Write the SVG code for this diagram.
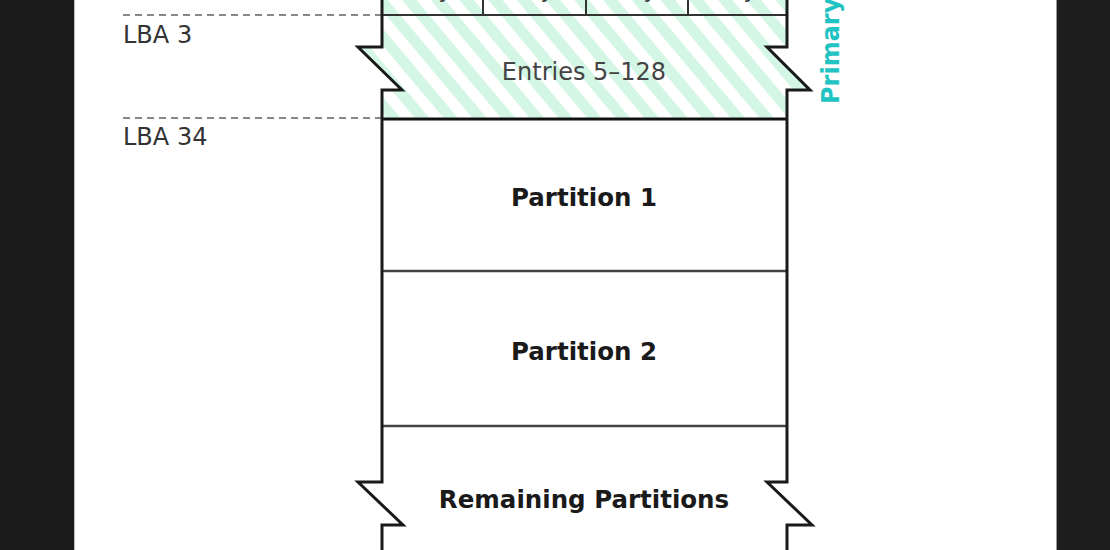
<svg xmlns="http://www.w3.org/2000/svg" width="1110" height="550" viewBox="0 0 1110 550">
  <defs>
    <pattern id="hatch" patternUnits="userSpaceOnUse" width="22" height="22" patternTransform="rotate(-40)">
      <rect width="22" height="22" fill="#ffffff"/>
      <rect width="11" height="22" fill="#d3f6e5"/>
    </pattern>
  </defs>
  <style>
    .lba { font-family: "DejaVu Sans", sans-serif; font-size: 24px; fill: #333333; }
    .lbl { font-family: "DejaVu Sans", sans-serif; font-size: 24px; fill: #444444; text-anchor: middle; }
    .bold { font-family: "DejaVu Sans", sans-serif; font-size: 24.5px; font-weight: bold; fill: #1a1a1a; text-anchor: middle; }
    .side { fill: none; stroke: #1a1a1a; stroke-width: 3; stroke-linejoin: miter; }
    .dash { stroke: #888888; stroke-width: 2; stroke-dasharray: 7 5; }
    .div { stroke: #444444; stroke-width: 2.5; }
  </style>

  <rect x="0" y="0" width="1110" height="550" fill="#ffffff"/>
  <rect x="0" y="0" width="74" height="550" fill="#1b1b1b"/>
  <line x1="74.5" y1="0" x2="74.5" y2="550" stroke="#bbbbbb" stroke-width="1"/>
  <rect x="1057" y="0" width="53" height="550" fill="#1d1d1d"/>
  <line x1="1056.5" y1="0" x2="1056.5" y2="550" stroke="#999999" stroke-width="1"/>

  <g id="lba-labels">
    <line class="dash" x1="123" y1="15" x2="382" y2="15"/>
    <line class="dash" x1="123" y1="118" x2="382" y2="118"/>
    <text class="lba" x="123" y="43">LBA 3</text>
    <text class="lba" x="123" y="145">LBA 34</text>
    <text class="lba" x="123" y="569" fill-opacity="0.6">LBA −34</text>
  </g>

  <g id="entries-1-4">
    <rect x="382" y="-5" width="405" height="20" fill="url(#hatch)"/>
    <line x1="483" y1="0" x2="483" y2="15" stroke="#333" stroke-width="2"/>
    <line x1="586" y1="0" x2="586" y2="15" stroke="#333" stroke-width="2"/>
    <line x1="688" y1="0" x2="688" y2="15" stroke="#333" stroke-width="2"/>
    <text class="lbl" x="432" y="-3">Entry 1</text>
    <text class="lbl" x="534" y="-3">Entry 2</text>
    <text class="lbl" x="637" y="-3">Entry 3</text>
    <text class="lbl" x="737" y="-3">Entry 4</text>
  </g>

  <g id="entries-5-128">
    <path d="M382,15 H787 V47 H767 L810,90 H787 V119 H382 V90 H402 L358,47 H382 Z" fill="url(#hatch)"/>
    <text class="lbl" x="584" y="80">Entries 5–128</text>
  </g>

  <g id="partition-1">
    <text class="bold" x="584" y="206">Partition 1</text>
  </g>

  <g id="partition-2">
    <text class="bold" x="584" y="360">Partition 2</text>
  </g>

  <g id="remaining-partitions">
    <text class="bold" x="584" y="508">Remaining Partitions</text>
  </g>

  <g id="primary-gpt">
    <text transform="translate(839,104) rotate(-90)" x="0" y="0" font-family="DejaVu Sans, sans-serif" font-size="24" font-weight="bold" fill="#22c3c3">Primary GPT</text>
  </g>

  <g id="connectors">
    <line x1="382" y1="15" x2="787" y2="15" stroke="#333" stroke-width="2"/>
    <line x1="382" y1="119" x2="787" y2="119" stroke="#111" stroke-width="3"/>
    <line class="div" x1="382" y1="271" x2="787" y2="271"/>
    <line class="div" x1="382" y1="426" x2="787" y2="426"/>
    <path class="side" d="M382,0 V47 H358 L402,90 H382 V482 H358 L403,525 H382 V550"/>
    <path class="side" d="M787,0 V47 H767 L810,90 H787 V482 H767 L812,525 H787 V550"/>
  </g>
</svg>
